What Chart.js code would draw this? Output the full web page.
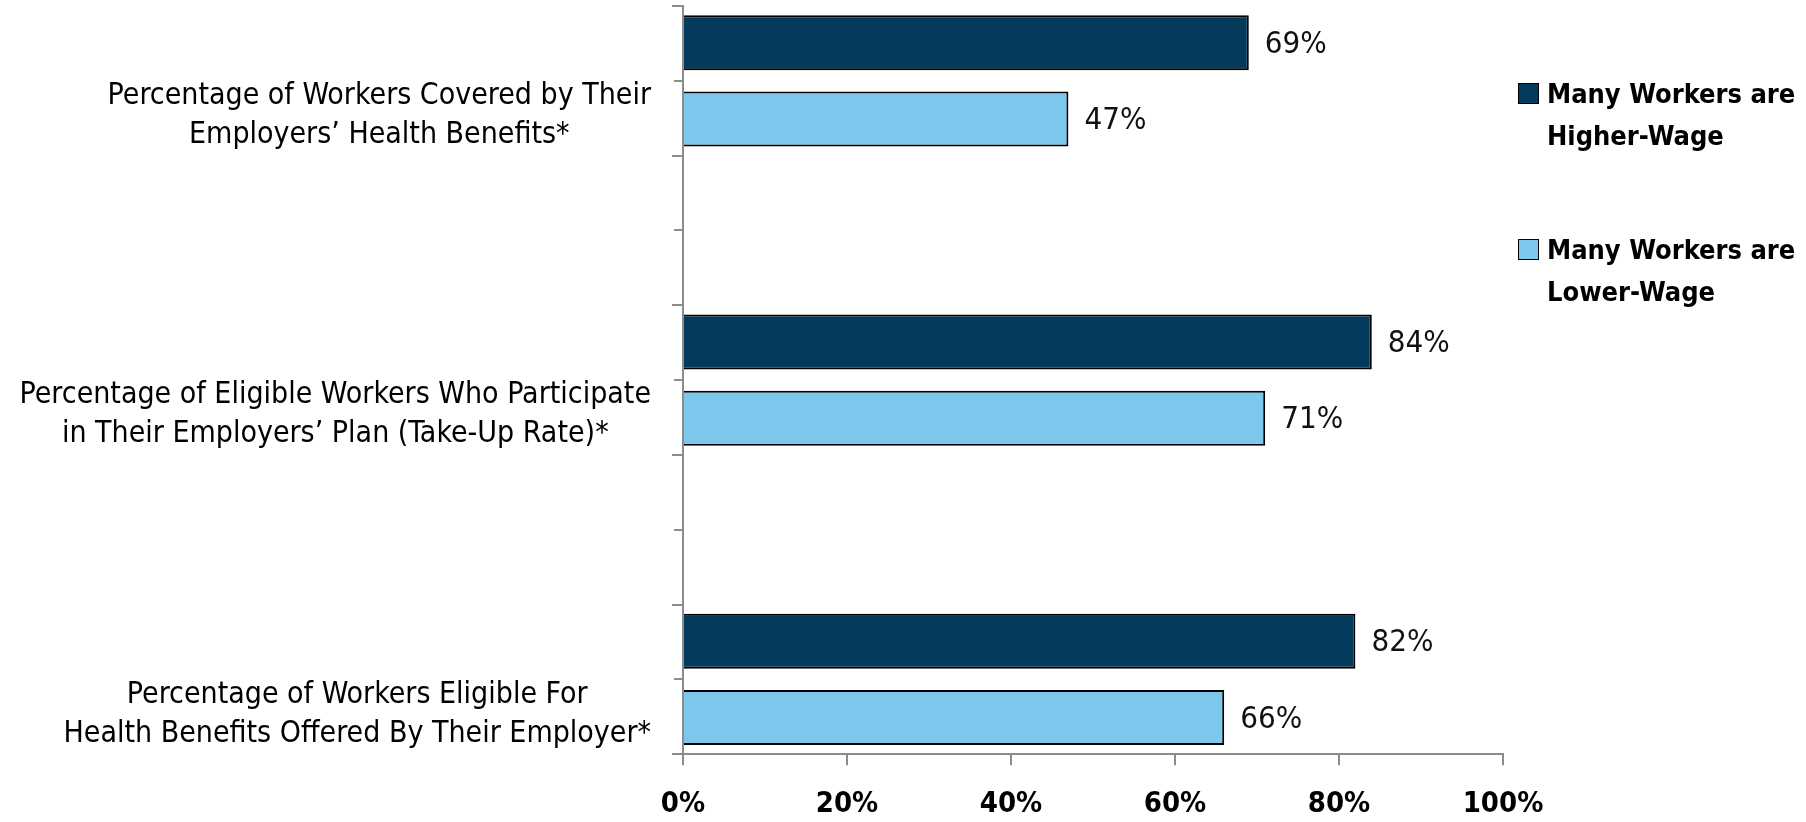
<!DOCTYPE html>
<html>
<head>
<meta charset="utf-8">
<script src="https://cdn.jsdelivr.net/npm/chart.js@4/dist/chart.umd.min.js"></script>
<style>
  body { margin: 0; background: #fff; }
  #wrap { position: relative; width: 1806px; height: 822px; }
  #legend { position: absolute; left: 1518px; top: 73px; font-family: "DejaVu Sans Condensed", "DejaVu Sans", sans-serif; font-weight: bold; font-size: 27px; line-height: 42px; color: #000; }
  #legend .item { display: flex; align-items: flex-start; margin-bottom: 72px; }
  #legend .box { width: 19px; height: 19px; border: 1.5px solid #000; margin: 10px 8px 0 0; flex: none; }
</style>
</head>
<body>
<div id="wrap">
  <canvas id="chart"></canvas>
  <div id="legend"></div>
</div>
<script>
const categories = [
  ["Percentage of Workers Covered by Their", "Employers\u2019 Health Benefits*"],
  "",
  ["Percentage of Eligible Workers Who Participate", "in Their Employers\u2019 Plan (Take-Up Rate)*"],
  "",
  ["Percentage of Workers Eligible For", "Health Benefits Offered By Their Employer*"],
];
const seriesNames = ["Many Workers are Higher-Wage", "Many Workers are Lower-Wage"];
const higherWage = [69, null, 84, null, 82];
const lowerWage = [47, null, 71, null, 66];
const xMax = 100;
const xStep = 20;

const colors = ["#043b5c", "#7dc7ed"];
const font = '"DejaVu Sans Condensed", "DejaVu Sans", sans-serif';
const axisGrey = "#8c8c8c";

// category labels: each block right-aligned to the axis, lines centred inside it
const categoryLabels = {
  id: "categoryLabels",
  afterDraw(chart) {
    const scale = chart.scales.y;
    const ctx = chart.ctx;
    ctx.save();
    ctx.font = "30px " + font;
    ctx.fillStyle = "#000";
    ctx.textAlign = "center";
    ctx.textBaseline = "middle";
    const right = chart.chartArea.left - 32;
    const lh = 39;
    categories.forEach((label, i) => {
      if (!label) return;
      const lines = Array.isArray(label) ? label : [label];
      const w = Math.max(...lines.map((l) => ctx.measureText(l).width));
      const cx = right - w / 2;
      const cy = scale.getPixelForValue(i) + 35;
      lines.forEach((l, j) => {
        ctx.fillText(l, cx, cy + (j - (lines.length - 1) / 2) * lh);
      });
    });
    ctx.restore();
  },
};

// value labels at the end of every bar
const valueLabels = {
  id: "valueLabels",
  afterDatasetsDraw(chart) {
    const ctx = chart.ctx;
    ctx.save();
    ctx.font = "31px " + font;
    ctx.fillStyle = "#111";
    ctx.textAlign = "left";
    ctx.textBaseline = "middle";
    chart.data.datasets.forEach((ds, di) => {
      chart.getDatasetMeta(di).data.forEach((bar, i) => {
        if (ds.data[i] == null) return;
        ctx.fillText(ds.data[i] + "%", bar.x + 16, bar.y + 2);
      });
    });
    ctx.restore();
  },
};

new Chart(document.getElementById("chart"), {
  type: "bar",
  data: {
    labels: categories,
    datasets: [
      { label: seriesNames[0], data: higherWage, backgroundColor: colors[0] },
      { label: seriesNames[1], data: lowerWage, backgroundColor: colors[1] },
    ],
  },
  options: {
    indexAxis: "y",
    responsive: true,
    maintainAspectRatio: false,
    animation: false,
    categoryPercentage: 1.02,
    barPercentage: 0.72,
    borderColor: "#000",
    borderWidth: 2,
    layout: { padding: { top: 6, right: 303, bottom: -22, left: 0 } },
    plugins: { legend: { display: false }, tooltip: { enabled: false } },
    scales: {
      x: {
        min: 0,
        max: xMax,
        ticks: {
          stepSize: xStep,
          padding: 22,
          color: "#000",
          font: { family: font, size: 29, weight: "bold" },
          callback: (v) => v + "%",
        },
        grid: { drawOnChartArea: false, tickLength: 11, color: axisGrey, lineWidth: 2 },
        border: { color: axisGrey, width: 2 },
      },
      y: {
        weight: 1,
        ticks: { display: false },
        grid: { offset: true, drawOnChartArea: false, tickLength: 11, color: axisGrey, lineWidth: 2 },
        border: { color: axisGrey, width: 2 },
        afterFit: (scale) => { scale.width = 683; },
      },
      // shorter tick marks at the middle of each category
      yMid: {
        type: "category",
        position: "left",
        weight: 0,
        labels: categories,
        ticks: { display: false },
        grid: { offset: false, drawOnChartArea: false, tickLength: 9, color: axisGrey, lineWidth: 2 },
        border: { display: false },
        afterFit: (scale) => { scale.width = 0; },
      },
    },
  },
  plugins: [categoryLabels, valueLabels],
});

document.getElementById("legend").innerHTML = seriesNames
  .map((name, i) => {
    const words = name.split(" ");
    const text = words.slice(0, 3).join(" ") + "<br>" + words.slice(3).join(" ");
    return `<div class="item"><span class="box" style="background:${colors[i]}"></span><span>${text}</span></div>`;
  })
  .join("");
</script>
</body>
</html>
